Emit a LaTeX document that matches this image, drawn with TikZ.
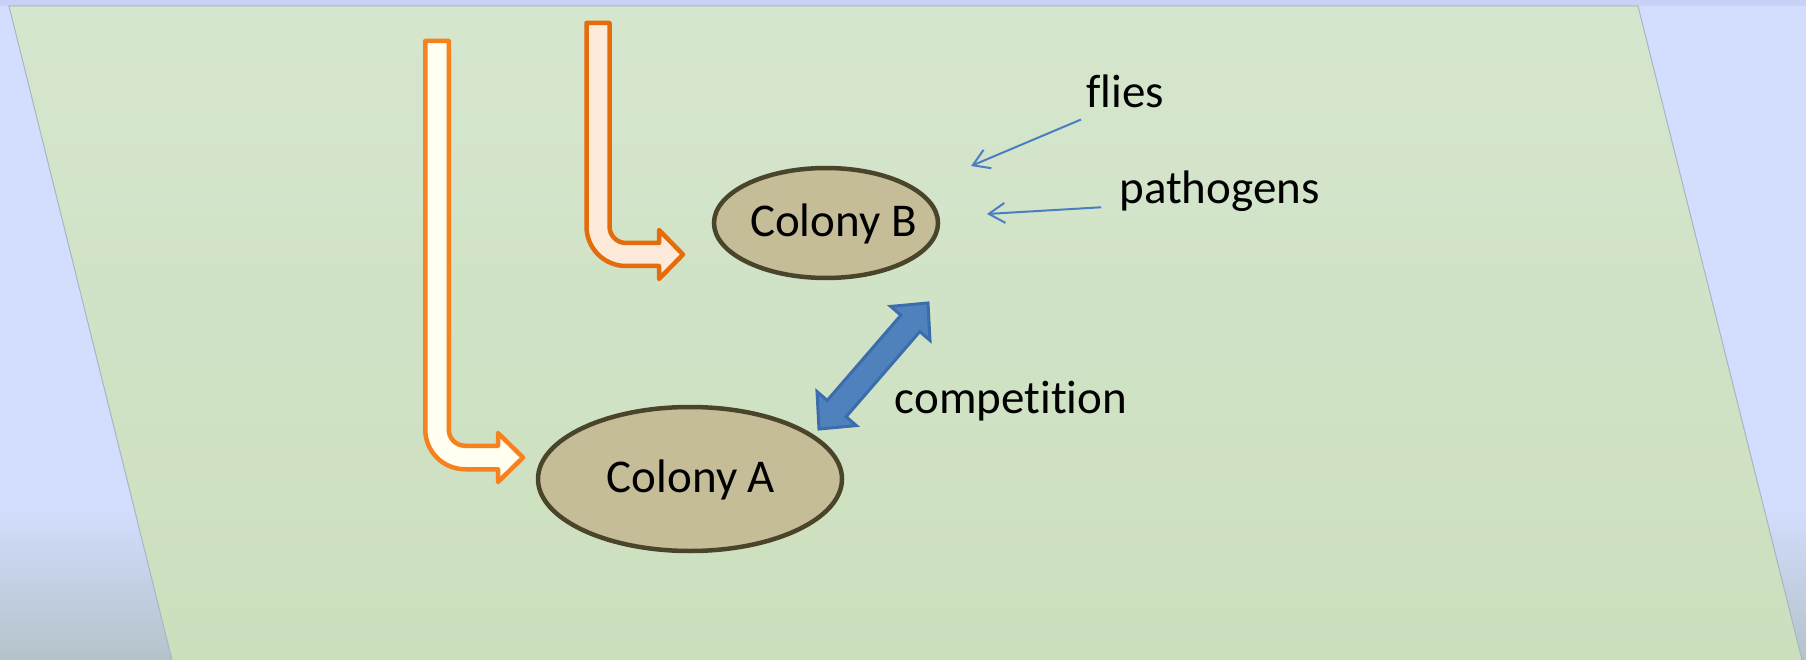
\documentclass[tikz,border=0pt]{standalone}
\usepackage{fontspec}
\setmainfont[Ligatures=NoCommon]{Carlito}
\usetikzlibrary{calc,arrows.meta,shapes.geometric}
\definecolor{bgblue}{HTML}{D3DEFE}
\definecolor{bgbottom}{HTML}{B4C3CA}
\definecolor{bgstrip}{HTML}{C9D2F6}
\definecolor{greentop}{HTML}{D5E6CE}
\definecolor{greenmid}{HTML}{D9E9D2}
\definecolor{greenbot}{HTML}{CCDFBD}
\definecolor{planeedge}{HTML}{A9B5C5}
\definecolor{orangeA}{HTML}{F5821F}
\definecolor{ivoryA}{HTML}{FFFEF0}
\definecolor{orangeB}{HTML}{E46C0A}
\definecolor{peachB}{HTML}{FDEADA}
\definecolor{colonyfill}{HTML}{C4BD97}
\definecolor{colonyline}{HTML}{4A452A}
\definecolor{bluefill}{HTML}{4F81BD}
\definecolor{blueline}{HTML}{3B6CAC}
\definecolor{bluethin}{HTML}{4A7EC2}
\begin{document}
\begin{tikzpicture}[x=1pt,y=-1pt,
  colony/.style={ellipse, draw=colonyline, fill=colonyfill, line width=4.5pt, inner sep=0pt},
  lbl/.style={font=\fontsize{47}{56}\selectfont, inner sep=0pt, anchor=base, text=black},
  bendA/.style={draw=orangeA, fill=ivoryA, line width=4.5pt, line join=round},
  bendB/.style={draw=orangeB, fill=peachB, line width=4.5pt, line join=round},
  compete/.style={draw=blueline, fill=bluefill, line width=3pt, line join=miter},
  thinarrow/.style={draw=bluethin, line width=2pt, -{Straight Barb[length=16pt,width=20pt]}}]
\useasboundingbox (0,0) rectangle (1806,660);
% background
\fill[bgblue] (0,0) rectangle (1806,660);
\shade[top color=bgblue, bottom color=bgbottom] (0,505) rectangle (1806,660);
\fill[bgstrip] (0,0) rectangle (1806,6);
% plane
\shade[top color=greentop, middle color=greenmid, bottom color=greenbot]
  (9,6) -- (1638,6) -- (1802,660) -- (172,660) -- cycle;
\draw[planeedge, line width=1pt] (172,660) -- (9,6) -- (1638,6) -- (1802,660);
% bent arrow A
\draw[bendA] (425.25,41) -- (425.25,429.5)
  .. controls (425.25,451.45) and (443.05,469.25) .. (465,469.25)
  -- (498,469.25) -- (498,482) -- (523,457.5) -- (498,433) -- (498,445.75) -- (465,445.75)
  .. controls (456.03,445.75) and (448.75,438.47) .. (448.75,429.5)
  -- (448.75,41) -- cycle;
% bent arrow B
\draw[bendB] (586.5,23) -- (586.5,226.5)
  .. controls (586.5,248.3) and (604.2,266) .. (626,266)
  -- (659,266) -- (659,279) -- (683,254.5) -- (659,230) -- (659,243) -- (626,243)
  .. controls (616.9,243) and (609.5,235.6) .. (609.5,226.5)
  -- (609.5,23) -- cycle;
% colonies
\node[colony, minimum width=304pt, minimum height=144pt] (colA) at (690,479) {};
\node[colony, minimum width=224pt, minimum height=110pt] (colB) at (826,223) {};
\node[lbl] (tA) at (691,492) {Colony A};
\node[lbl] (tB) at (833.5,237) {Colony B};
% competition double arrow
\coordinate (cp) at (819,429);
\coordinate (cq) at (928,303);
\coordinate (hp) at ($(cp)!27pt!(cq)$);
\coordinate (hq) at ($(cq)!27pt!(cp)$);
\draw[compete] (cp) -- ($(hp)!26pt!90:(cq)$) -- ($(hp)!12.5pt!90:(cq)$)
  -- ($(hq)!12.5pt!-90:(cp)$) -- ($(hq)!26pt!-90:(cp)$) -- (cq)
  -- ($(hq)!26pt!90:(cp)$) -- ($(hq)!12.5pt!90:(cp)$)
  -- ($(hp)!12.5pt!-90:(cq)$) -- ($(hp)!26pt!-90:(cq)$) -- cycle;
\node[lbl] (comp) at (1011,413) {competition};
% flies and pathogens
\node[lbl] (flies) at (1125,108) {flies};
\node[lbl] (path) at (1219.5,204) {pathogens};
\coordinate (fliesTip) at (971,166);
\coordinate (pathTip) at (987,214);
\draw[thinarrow] ($(flies.south west)+(-5,11)$) -- (fliesTip);
\draw[thinarrow] ($(path.south west)+(-18,-5)$) -- (pathTip);
\end{tikzpicture}
\end{document}
